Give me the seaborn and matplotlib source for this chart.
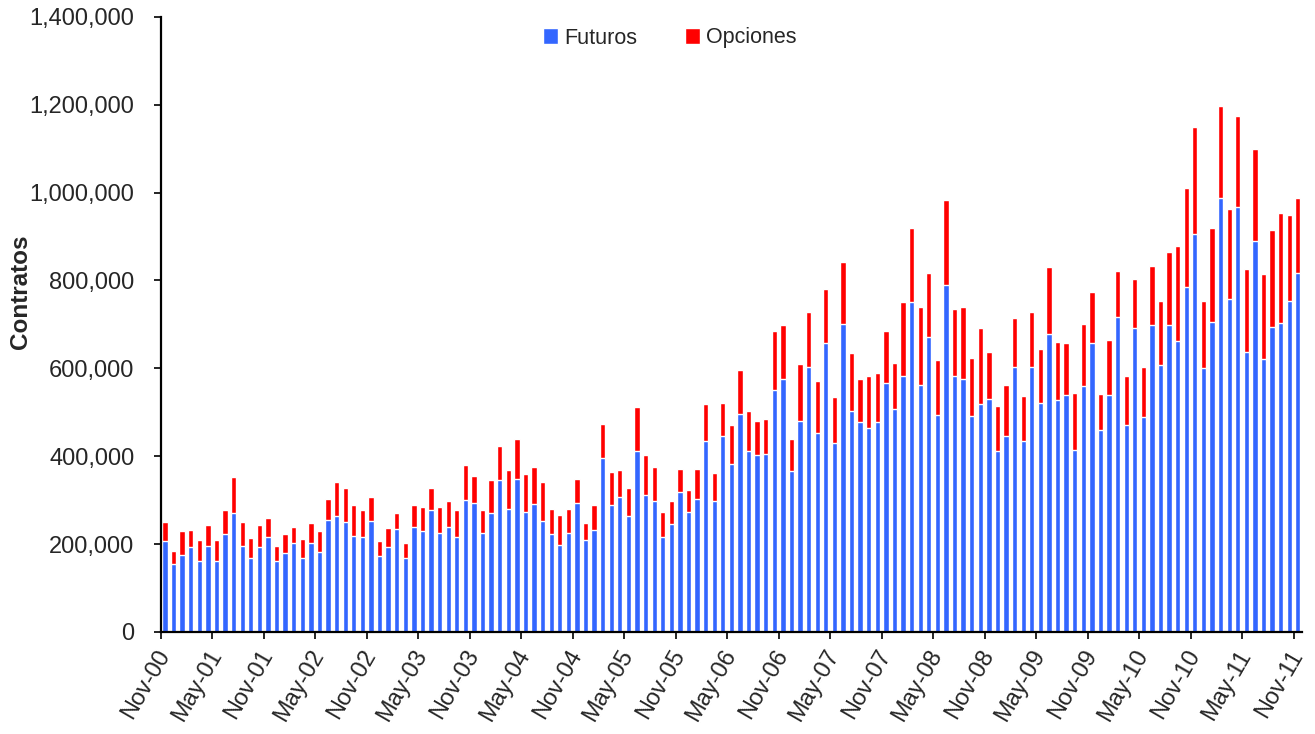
import pandas as pd
import numpy as np
import seaborn as sns
import matplotlib.pyplot as plt
from matplotlib.patches import Patch
from matplotlib.ticker import FuncFormatter, FixedLocator

# monthly volume, thousands of contracts (Nov-00 .. Nov-11)
futuros = [206, 154, 175, 193, 162, 195, 162, 222, 271, 195, 168, 193, 216, 162, 180, 203, 168, 203,
           182, 256, 263, 250, 219, 216, 253, 172, 193, 234, 168, 240, 229, 277, 226, 240, 216, 301,
           294, 226, 271, 345, 281, 349, 274, 291, 253, 222, 199, 226, 294, 209, 233, 396, 290, 308,
           263, 413, 311, 298, 216, 246, 318, 274, 302, 434, 298, 447, 383, 495, 413, 402, 406, 550,
           576, 366, 481, 604, 454, 657, 430, 702, 502, 477, 464, 477, 566, 508, 583, 752, 563, 671,
           494, 790, 583, 576, 491, 518, 531, 412, 447, 604, 434, 604, 522, 678, 528, 539, 415, 559,
           658, 460, 539, 717, 472, 692, 490, 698, 607, 698, 662, 786, 906, 600, 705, 987, 757, 967,
           637, 889, 621, 695, 703, 753, 818]
opciones = [44, 31, 54, 40, 47, 48, 47, 55, 81, 55, 47, 50, 43, 33, 42, 37, 44, 44,
            47, 47, 78, 78, 69, 61, 55, 34, 43, 36, 34, 48, 55, 51, 58, 57, 61, 78,
            61, 51, 74, 78, 88, 91, 85, 85, 88, 59, 68, 55, 54, 38, 55, 78, 75, 60,
            64, 98, 91, 77, 57, 51, 54, 50, 70, 84, 64, 75, 88, 102, 91, 79, 78, 135,
            122, 74, 129, 125, 118, 123, 105, 139, 132, 99, 119, 113, 119, 105, 169, 167, 176, 146,
            126, 194, 152, 163, 132, 173, 106, 102, 116, 110, 104, 125, 122, 152, 133, 118, 129, 142,
            115, 81, 126, 104, 111, 112, 113, 136, 146, 167, 216, 225, 244, 153, 214, 211, 206, 207,
            190, 210, 193, 220, 250, 197, 169]

meses = pd.date_range('2000-11-01', periods=len(futuros), freq='MS').strftime('%b-%y').tolist()

df = pd.DataFrame({'Mes': meses,
                   'Futuros': np.array(futuros) * 1000,
                   'Opciones': np.array(opciones) * 1000})
df['Total'] = df['Futuros'] + df['Opciones']

azul = '#3366FF'
rojo = '#FF0000'

sns.set_style('white')
plt.rcParams['font.family'] = ['Liberation Sans', 'DejaVu Sans']

fig = plt.figure(figsize=(13.15, 7.34), dpi=100)
ax = fig.add_axes([0.1222, 0.139, 0.868, 0.838])

sns.barplot(data=df, x='Mes', y='Total', order=meses, color=rojo, saturation=1, width=0.62, ax=ax)
sns.barplot(data=df, x='Mes', y='Futuros', order=meses, color=azul, saturation=1, width=0.62, ax=ax)

ax.set_xlim(-0.5, len(meses) - 0.5)
ax.set_ylim(0, 1400000)
ax.set_yticks(np.arange(0, 1400001, 200000))
ax.yaxis.set_major_formatter(FuncFormatter(lambda v, p: f'{int(v):,}'))

pos = list(range(0, len(meses), 6))
ax.set_xticks(pos)
ax.set_xticklabels([meses[i] for i in pos], rotation=60, ha='right', va='center',
                   rotation_mode='anchor')
ax.xaxis.set_minor_locator(FixedLocator([p - 0.5 for p in pos]))
ax.tick_params(axis='x', which='major', length=0, pad=14, labelsize=17)
ax.tick_params(axis='x', which='minor', length=5, width=1.2, color='black', direction='out', bottom=True)
ax.tick_params(axis='y', length=5, width=1.2, color='black', direction='out', left=True, labelsize=17, pad=14)

ax.set_xlabel('')
ax.set_ylabel('Contratos', fontsize=17.5, fontweight='bold')
ax.yaxis.set_label_coords(-0.113, 0.553)

sns.despine(ax=ax)
for s in ['left', 'bottom']:
    ax.spines[s].set_color('black')
    ax.spines[s].set_linewidth(1.6)

handles = [Patch(facecolor=azul, label='Futuros'), Patch(facecolor=rojo, label='Opciones')]
fig.legend(handles=handles, loc='center', bbox_to_anchor=(670 / 1315, 1 - 38 / 734), ncol=2,
           frameon=False, fontsize=15.5, handlelength=0.7, handleheight=0.7, handletextpad=0.3,
           columnspacing=2.2)

fig.savefig('out.png', dpi=100)
